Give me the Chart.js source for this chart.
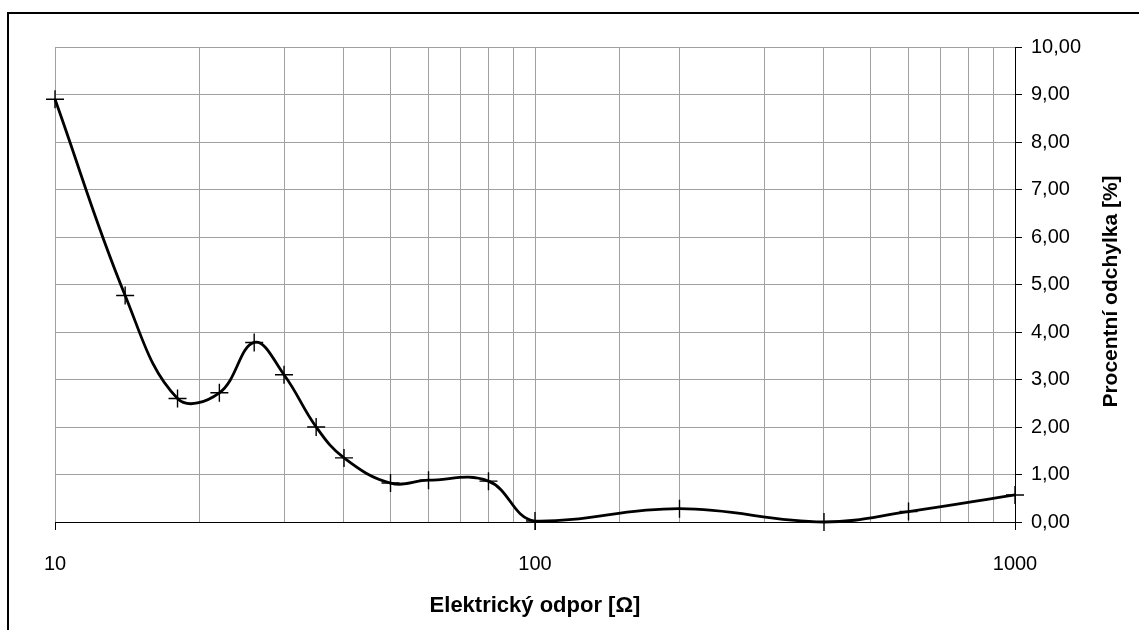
<!DOCTYPE html>
<html>
<head>
<meta charset="utf-8">
<script src="https://cdn.jsdelivr.net/npm/chart.js@4.4.1/dist/chart.umd.min.js"></script>
<style>
  html, body { margin: 0; padding: 0; background: #fff; }
  #wrap { width: 1139px; height: 630px; position: relative; }
</style>
</head>
<body>
<div id="wrap"><canvas id="chart"></canvas></div>
<script>
const resistance = [10, 14, 18, 22, 26, 30, 35, 40, 50, 60, 80, 100, 200, 400, 600, 1000];
const deviation = [8.9, 4.77, 2.6, 2.72, 3.78, 3.1, 2.0, 1.35, 0.82, 0.88, 0.86, 0.02, 0.28, 0.0, 0.22, 0.57];
const xLabelTicks = [10, 100, 1000];
const X_TITLE = "Elektrický odpor [Ω]";
const Y_TITLE = "Procentní odchylka [%]";
const FONT = "'Liberation Sans', Arial, sans-serif";
const GRID = "#a0a0a0";

// outer frame + y title (Chart.js rotates a right-side title the other way)
const frameAndTitle = {
  id: "frameAndTitle",
  beforeDraw(chart) {
    const ctx = chart.ctx;
    ctx.save();
    ctx.fillStyle = "#fff";
    ctx.fillRect(0, 0, chart.width, chart.height);
    ctx.strokeStyle = "#000";
    ctx.lineWidth = 2;
    ctx.beginPath();
    ctx.moveTo(8, chart.height);
    ctx.lineTo(8, 13);
    ctx.lineTo(chart.width, 13);
    ctx.stroke();
    ctx.restore();
  },
  afterDraw(chart) {
    const ctx = chart.ctx;
    const area = chart.chartArea;
    ctx.save();
    ctx.translate(chart.width - 28, (area.top + area.bottom) / 2 + 7);
    ctx.rotate(-Math.PI / 2);
    ctx.font = `bold 21px ${FONT}`;
    ctx.fillStyle = "#000";
    ctx.textAlign = "center";
    ctx.textBaseline = "middle";
    ctx.fillText(Y_TITLE, 0, 0);
    ctx.restore();
  },
};

new Chart(document.getElementById("chart"), {
  type: "line",
  data: {
    datasets: [{
      data: resistance.map((x, i) => ({ x, y: deviation[i] })),
      borderColor: "#000",
      borderWidth: 2.8,
      tension: 0.4,
      fill: false,
      clip: false,
      pointStyle: "cross",
      pointRadius: 9,
      pointHoverRadius: 9,
      pointBorderWidth: 1.4,
      pointBorderColor: "#000",
    }],
  },
  plugins: [frameAndTitle],
  options: {
    responsive: true,
    maintainAspectRatio: false,
    animation: false,
    devicePixelRatio: 1,
    layout: { padding: { left: 55, top: 47, right: 0, bottom: 0 } },
    plugins: { legend: { display: false }, tooltip: { enabled: false } },
    scales: {
      x: {
        type: "logarithmic",
        position: "bottom",
        min: 10,
        max: 1000,
        afterFit: (s) => { s.height = 108; },
        border: { color: "#000", width: 1 },
        grid: {
          color: GRID,
          lineWidth: 1,
          tickLength: 8,
          tickColor: (c) => (c.tick && xLabelTicks.includes(c.tick.value) ? "#000" : "rgba(0,0,0,0)"),
        },
        ticks: {
          autoSkip: false,
          maxRotation: 0,
          padding: 22,
          color: "#000",
          font: { family: FONT, size: 20 },
          callback: (v) => (xLabelTicks.includes(v) ? String(v) : ""),
        },
        title: {
          display: true,
          text: X_TITLE,
          color: "#000",
          font: { family: FONT, size: 22, weight: "bold" },
          padding: { top: 0, bottom: 11 },
        },
      },
      y: {
        position: "right",
        min: 0,
        max: 10,
        afterFit: (s) => { s.width = 124; },
        border: { color: "#000", width: 1 },
        grid: { color: GRID, lineWidth: 1, tickLength: 7, tickColor: "#000" },
        ticks: {
          stepSize: 1,
          padding: 9,
          color: "#000",
          font: { family: FONT, size: 20 },
          callback: (v) => v.toFixed(2).replace(".", ","),
        },
      },
    },
  },
});
</script>
</body>
</html>
